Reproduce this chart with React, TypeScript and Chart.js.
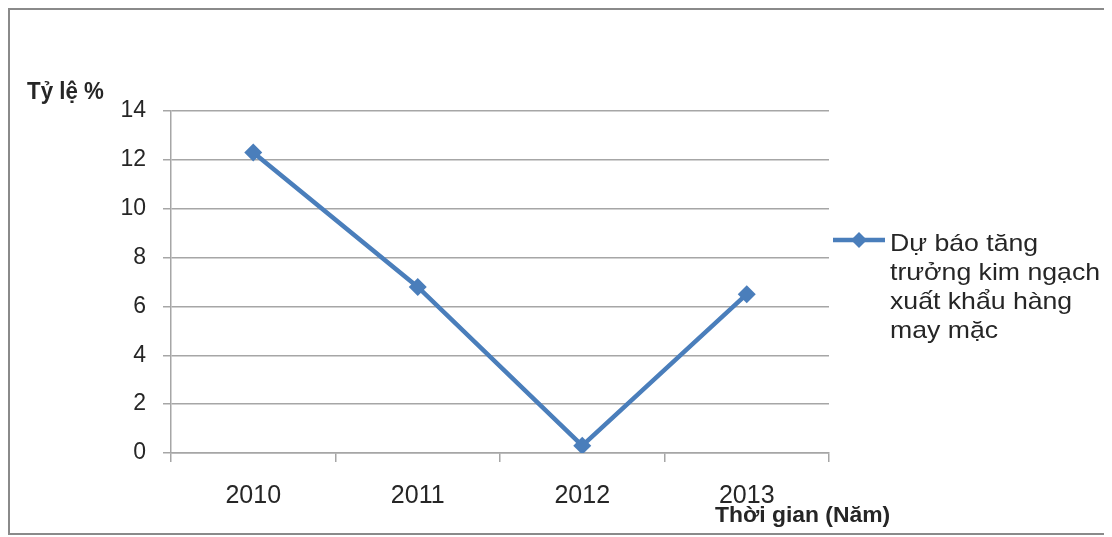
import React, { useEffect, useRef } from 'react';
import { Chart, registerables } from 'chart.js';

Chart.register(...registerables);

const years = ['2010', '2011', '2012', '2013'];
const growth = [12.3, 6.8, 0.3, 6.5];
const legendLines = ['Dự báo tăng', 'trưởng kim ngạch', 'xuất khẩu hàng', 'may mặc'];
const seriesName = legendLines.join(' ');
const yTitle = 'Tỷ lệ %';
const xTitle = 'Thời gian (Năm)';
const yMin = 0;
const yMax = 14;
const yStep = 2;

const BLUE = '#4a7ebb';
const GRID = '#a6a6a6';
const TEXT = '#262626';
const FONT = '"Liberation Sans", Arial, sans-serif';

const CANVAS_W = 1097;
const CANVAS_H = 523;

function diamond(ctx: CanvasRenderingContext2D, cx: number, cy: number, r: number) {
  ctx.beginPath();
  ctx.moveTo(cx, cy - r);
  ctx.lineTo(cx + r, cy);
  ctx.lineTo(cx, cy + r);
  ctx.lineTo(cx - r, cy);
  ctx.closePath();
  ctx.fill();
}

function scaledText(ctx: CanvasRenderingContext2D, text: string, x: number, y: number, sx: number) {
  ctx.save();
  ctx.translate(x, y);
  ctx.scale(sx, 1);
  ctx.fillText(text, 0, 0);
  ctx.restore();
}

const decorPlugin = {
  id: 'decor',
  afterDraw(chart: any) {
    const ctx: CanvasRenderingContext2D = chart.ctx;
    const area = chart.chartArea;
    ctx.save();
    ctx.fillStyle = TEXT;
    ctx.textBaseline = 'alphabetic';
    ctx.textAlign = 'left';
    // axis titles
    ctx.font = `bold 23px ${FONT}`;
    scaledText(ctx, yTitle, 17, 89, 0.97);
    ctx.font = `bold 22px ${FONT}`;
    scaledText(ctx, xTitle, area.right - 114, 512, 1.04);

    // legend
    const ly = 230;
    const lx0 = area.right + 4;
    const lx1 = area.right + 56;
    ctx.strokeStyle = BLUE;
    ctx.lineWidth = 4.5;
    ctx.beginPath();
    ctx.moveTo(lx0, ly);
    ctx.lineTo(lx1, ly);
    ctx.stroke();
    ctx.fillStyle = BLUE;
    diamond(ctx, (lx0 + lx1) / 2, ly, 8);
    ctx.fillStyle = TEXT;
    ctx.font = `24px ${FONT}`;
    legendLines.forEach((line, i) => {
      scaledText(ctx, line, area.right + 61, 241 + i * 29, 1.11);
    });
    ctx.restore();
  },
};

export default function App() {
  const ref = useRef<HTMLCanvasElement | null>(null);

  useEffect(() => {
    if (!ref.current) return;
    const chart = new Chart(ref.current, {
      type: 'line',
      data: {
        labels: years,
        datasets: [
          {
            label: seriesName,
            data: growth,
            borderColor: BLUE,
            backgroundColor: BLUE,
            borderWidth: 4.5,
            pointStyle: 'rectRot',
            pointRadius: 9,
            pointBorderWidth: 0,
            pointBackgroundColor: BLUE,
            tension: 0,
          },
        ],
      },
      options: {
        responsive: false,
        animation: false,
        layout: { padding: { top: 101, right: 278, bottom: 0, left: 0 } },
        plugins: {
          legend: { display: false },
          tooltip: { enabled: false },
          title: { display: false },
        },
        scales: {
          x: {
            offset: true,
            grid: {
              offset: true,
              drawOnChartArea: false,
              drawTicks: true,
              tickLength: 9,
              color: GRID,
              lineWidth: 1.5,
            },
            border: { display: true, color: GRID, width: 1.5 },
            ticks: {
              color: TEXT,
              padding: 19,
              font: { family: FONT, size: 25 },
            },
            afterFit(scale: any) {
              scale.height = 80;
            },
          },
          y: {
            min: yMin,
            max: yMax,
            ticks: {
              stepSize: yStep,
              color: TEXT,
              padding: 17,
              font: { family: FONT, size: 23 },
            },
            grid: {
              color: GRID,
              lineWidth: 1.5,
              drawTicks: true,
              tickLength: 8,
            },
            border: { display: true, color: GRID, width: 1.5 },
            afterFit(scale: any) {
              scale.width = 161;
            },
          },
        },
      },
      plugins: [decorPlugin],
    });
    return () => chart.destroy();
  }, []);

  return (
    <div
      style={{
        width: 1100,
        height: 527,
        boxSizing: 'border-box',
        borderTop: '2px solid #8a8a8a',
        borderLeft: '2px solid #8a8a8a',
        borderBottom: '2px solid #8a8a8a',
        borderRight: '1px solid #d8d8d8',
        background: '#ffffff',
        position: 'relative',
      }}
    >
      <canvas ref={ref} width={CANVAS_W} height={CANVAS_H} style={{ display: 'block' }} />
    </div>
  );
}
